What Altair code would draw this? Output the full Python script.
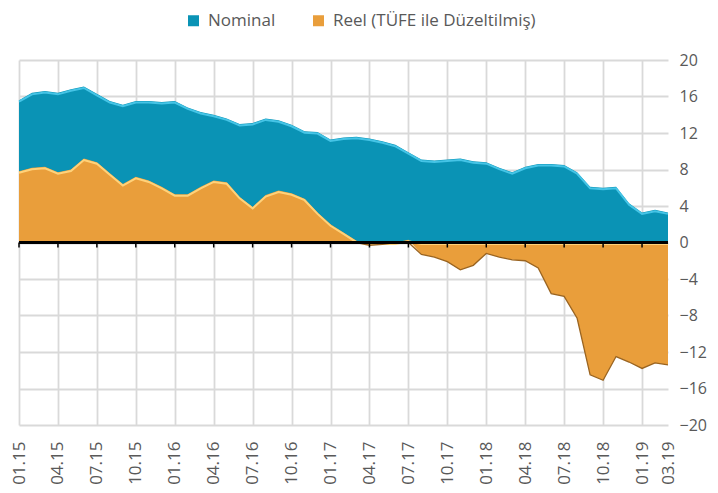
import altair as alt
import pandas as pd

MONTHS = [f"{m:02d}.{y}" for y in range(15, 20) for m in range(1, 13)][:51]

NOMINAL = [15.6, 16.4, 16.6, 16.4, 16.8, 17.1, 16.3, 15.5, 15.1, 15.5,
           15.5, 15.4, 15.5, 14.8, 14.3, 14.0, 13.6, 13.0, 13.1, 13.6,
           13.4, 12.9, 12.2, 12.1, 11.3, 11.5, 11.6, 11.4, 11.1, 10.7,
           9.9, 9.1, 9.0, 9.1, 9.2, 8.9, 8.8, 8.2, 7.7, 8.3,
           8.6, 8.6, 8.5, 7.7, 6.1, 6.0, 6.1, 4.3, 3.3, 3.6, 3.3]

REEL = [7.8, 8.2, 8.3, 7.7, 8.0, 9.2, 8.8, 7.6, 6.4, 7.2,
        6.8, 6.1, 5.3, 5.3, 6.1, 6.8, 6.6, 5.0, 3.9, 5.2,
        5.7, 5.4, 4.8, 3.3, 2.0, 1.1, 0.2, -0.3, -0.2, 0.0,
        0.3, -1.3, -1.6, -2.1, -3.0, -2.5, -1.2, -1.6, -1.9, -2.0,
        -2.8, -5.6, -5.9, -8.3, -14.5, -15.1, -12.5, -13.1, -13.8, -13.2, -13.4]

SERIES = ["Nominal", "Reel (TÜFE ile Düzeltilmiş)"]
COLORS = ["#0A93B5", "#E99E3B"]

TICK_POS = list(range(0, 49, 3))
LABEL_POS = TICK_POS + [50]
Y_TICKS = list(range(-20, 21, 4))

rows = []
for i, m in enumerate(MONTHS):
    rows.append({"i": i, "month": m, "value": NOMINAL[i], "series": SERIES[0]})
    rows.append({"i": i, "month": m, "value": REEL[i], "series": SERIES[1]})
df = pd.DataFrame(rows)
ticks_df = pd.DataFrame({"i": TICK_POS})

FONT = "Open Sans"
TXT = "#595959"
label_expr = "[" + ",".join(f"'{m}'" for m in MONTHS) + "][datum.value]"

x_axis = alt.Axis(
    values=LABEL_POS, labelExpr=label_expr, labelAngle=-90, labelPadding=16,
    domain=False, ticks=False, grid=True, gridColor="#D9D9D9", gridWidth=1.8,
    gridOpacity={"condition": {"test": "datum.value === 50", "value": 0}, "value": 1},
    labelFont=FONT, labelFontSize=17, labelColor=TXT,
    labelOverlap=False, labelFlush=False, labelBound=False, title=None,
)
y_axis = alt.Axis(
    orient="right", values=Y_TICKS, domain=False, ticks=False, grid=True,
    gridColor="#D9D9D9", gridWidth=1.8, labelPadding=11,
    labelFont=FONT, labelFontSize=16, labelColor=TXT,
    labelOverlap=False, labelFlush=False, labelBound=False, title=None,
)
x_scale = alt.Scale(domain=[0, 50], nice=False, zero=False)
y_scale = alt.Scale(domain=[-20, 20], nice=False)


def X():
    return alt.X("i:Q", scale=x_scale, axis=x_axis, title=None)


def Y(field):
    return alt.Y(f"{field}:Q", scale=y_scale, axis=y_axis, title=None)


color_enc = alt.Color(
    "series:N",
    scale=alt.Scale(domain=SERIES, range=COLORS),
    legend=alt.Legend(
        orient="none", legendX=166, legendY=-48, direction="horizontal",
        title=None, symbolType="square", symbolSize=121, symbolStrokeWidth=0,
        labelFont=FONT, labelFontSize=17, labelColor=TXT, labelLimit=0,
        labelOffset=6, columnPadding=34, padding=0,
    ),
)

base = alt.Chart(df)

nom_area = base.transform_filter(alt.datum.series == SERIES[0]).mark_area(
    interpolate="linear"
).encode(x=X(), y=Y("value"), color=color_enc)

reel_area = base.transform_filter(alt.datum.series == SERIES[1]).mark_area(
    interpolate="linear"
).encode(x=X(), y=Y("value"), color=color_enc)

nom_hi = base.transform_filter(alt.datum.series == SERIES[0]).mark_line(
    color="#45C4E6", strokeWidth=2, yOffset=1.5
).encode(x=X(), y=Y("value"))

reel_hi = base.transform_filter(alt.datum.series == SERIES[1]).transform_calculate(
    value="max(datum.value, 0)"
).mark_line(color="#FFD27A", strokeWidth=2, yOffset=1.5).encode(x=X(), y=Y("value"))

reel_sh = base.transform_filter(alt.datum.series == SERIES[1]).transform_calculate(
    value="min(datum.value, 0)"
).mark_line(color="#9A6420", strokeWidth=1.3, yOffset=0).encode(x=X(), y=Y("value"))

zero = alt.Chart(ticks_df).mark_rule(color="black", strokeWidth=1.5).encode(
    y=alt.Y(datum=0, scale=y_scale, axis=y_axis)
)

tk = alt.Chart(ticks_df).mark_rule(color="black", strokeWidth=1.5, y2Offset=5).encode(
    x=X(), y=alt.Y(datum=0, scale=y_scale, axis=y_axis), y2=alt.datum(0)
)

chart = alt.layer(nom_area, reel_area, nom_hi, reel_hi, reel_sh, zero, tk).properties(
    width=649, height=365,
    autosize=alt.AutoSizeParams(type="none"),
    padding={"left": 11, "top": 52, "right": 42, "bottom": 60},
    background="white",
).configure_view(stroke=None)

chart.save("out.html", embed_options={"renderer": "svg", "actions": False})
